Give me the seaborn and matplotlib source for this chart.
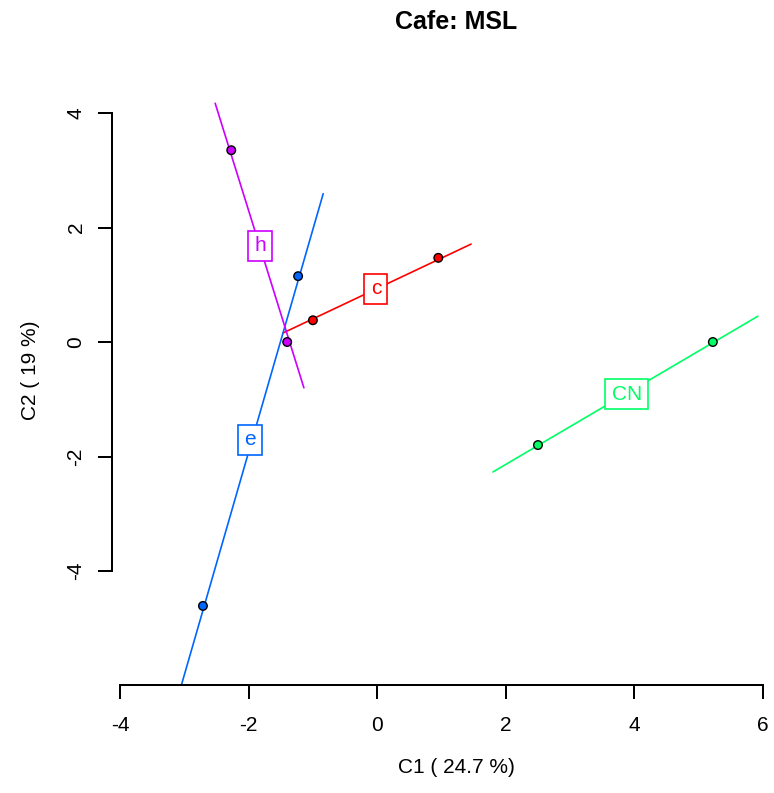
import numpy as np
import pandas as pd
import matplotlib
matplotlib.use("Agg")
import matplotlib.pyplot as plt
from matplotlib.path import Path
import seaborn as sns

# ---- data ----
groups = ["c", "CN", "e", "h"]
colors = ["#FF0000", "#00FF66", "#0066FF", "#CC00FF"]

# segment endpoints per group
seg_x0 = [-1.46, 1.80, -0.84, -2.52]
seg_y0 = [0.16, -2.27, 2.59, 4.17]
seg_x1 = [1.46, 5.92, -3.15, -1.14]
seg_y1 = [1.71, 0.45, -6.40, -0.80]

# partial points per group (two each)
pt_x1 = [-1.00, 2.50, -1.23, -2.27]
pt_y1 = [0.38, -1.80, 1.15, 3.35]
pt_x2 = [0.95, 5.22, -2.71, -1.40]
pt_y2 = [1.47, 0.00, -4.61, 0.00]

# label positions
lab_x = [-0.02, 3.88, -1.98, -1.82]
lab_y = [0.93, -0.91, -1.71, 1.68]

x_ticks = [-4, -2, 0, 2, 4, 6]
y_ticks = [-4, -2, 0, 2, 4]
title = "Cafe: MSL"
xlabel = "C1 ( 24.7 %)"
ylabel = "C2 ( 19 %)"

# ---- tables ----
lines_df = pd.DataFrame({
    "group": groups + groups,
    "x": seg_x0 + seg_x1,
    "y": seg_y0 + seg_y1,
})
pts_df = pd.DataFrame({
    "group": groups + groups,
    "x": pt_x1 + pt_x2,
    "y": pt_y1 + pt_y2,
})
palette = dict(zip(groups, colors))

sns.set_style("white")
plt.rcParams["font.family"] = ["Liberation Sans", "DejaVu Sans"]
plt.rcParams["text.color"] = "black"
plt.rcParams["axes.labelcolor"] = "black"

W, H = 774, 793
fig = plt.figure(figsize=(W / 100, H / 100), dpi=100)
left_px, right_px, top_px, bot_px = 112, 800, 55, 685
ax = fig.add_axes([left_px / W, 1 - bot_px / H, (right_px - left_px) / W, (bot_px - top_px) / H])

sns.lineplot(data=lines_df, x="x", y="y", hue="group", units="group", estimator=None,
             sort=False, palette=palette, legend=False, linewidth=1.2, ax=ax, zorder=2)
sns.scatterplot(data=pts_df, x="x", y="y", hue="group", palette=palette, legend=False,
                s=38, edgecolor="black", linewidth=1.0, ax=ax, zorder=3)


def rbox(x0, y0, width, height, mutation_size):
    px = 0.30 * mutation_size
    py = 0.26 * mutation_size
    return Path([(x0 - px, y0 - py), (x0 + width + px, y0 - py),
                 (x0 + width + px, y0 + height + py), (x0 - px, y0 + height + py),
                 (x0 - px, y0 - py)], closed=True)


for g, c, lx, ly in zip(groups, colors, lab_x, lab_y):
    ax.text(lx, ly, g, color=c, fontsize=15, ha="center", va="center", zorder=4,
            bbox=dict(boxstyle=rbox, facecolor="white", edgecolor=c, linewidth=1.2))

x0d = -4 - (120 - left_px) / 64.3
ax.set_xlim(x0d, x0d + (right_px - left_px) / 64.3)
y0d = -4 - (bot_px - 571) / 57.25
ax.set_ylim(y0d, y0d + (bot_px - top_px) / 57.25)

for s in ["top", "right"]:
    ax.spines[s].set_visible(False)
for s in ["left", "bottom"]:
    ax.spines[s].set_linewidth(1.44)
    ax.spines[s].set_color("black")
ax.spines["left"].set_bounds(-4, 4)
ax.spines["bottom"].set_bounds(-4, 6)

ax.set_xticks(x_ticks)
ax.set_yticks(y_ticks)
ax.set_xticklabels([str(v) for v in x_ticks])
ax.set_yticklabels([str(v) for v in y_ticks], rotation=90, va="center")
ax.tick_params(axis="both", direction="out", length=10, width=1.44, labelsize=15,
               colors="black", labelcolor="black", left=True, bottom=True)
ax.tick_params(axis="x", pad=12)
ax.tick_params(axis="y", pad=9)

ax.set_xlabel(xlabel, fontsize=15, labelpad=17)
ax.set_ylabel(ylabel, fontsize=15, labelpad=19)
ax.set_title(title, fontsize=18, fontweight="bold", pad=19, color="black")

fig.savefig("out.png", dpi=100)
